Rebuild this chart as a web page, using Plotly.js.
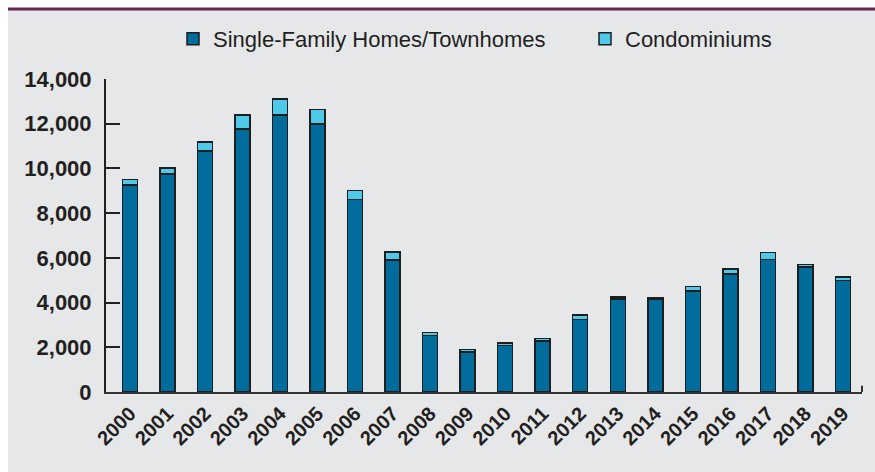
<!DOCTYPE html>
<html>
<head>
<meta charset="utf-8">
<script src="https://cdn.plot.ly/plotly-3.0.1.min.js"></script>
<style>html,body{margin:0;padding:0;background:#fff;}#chart{width:875px;height:472px;}</style>
</head>
<body>
<div id="chart"></div>
<script>
const years = ["2000","2001","2002","2003","2004","2005","2006","2007","2008","2009","2010","2011","2012","2013","2014","2015","2016","2017","2018","2019"];
const singleFamily = [9250,9740,10780,11760,12400,11990,8620,5900,2520,1800,2090,2290,3250,4170,4150,4520,5280,5920,5600,4980];
const condominiums = [260,270,410,630,700,640,400,370,150,110,100,110,190,90,80,210,220,310,110,160];
const yTicks = [0,2000,4000,6000,8000,10000,12000,14000];

const L = 106, R = 862, T = 79, B = 392, W = 875, H = 472;
const px = v => (v - L) / (R - L);
const py = v => (B - v) / (B - T);

const lineStyle = {color: '#1e1e1e', width: 1.5};
const traces = [
  {type: 'bar', name: 'Single-Family Homes/Townhomes', x: years, y: singleFamily,
   marker: {color: '#006c9c', line: lineStyle}, width: 0.4, legend: 'legend'},
  {type: 'bar', name: 'Condominiums', x: years, y: condominiums,
   marker: {color: '#4ec9ea', line: lineStyle}, width: 0.4, legend: 'legend2'}
];

const legFont = {size: 22, family: 'Liberation Sans, Arial, sans-serif', color: '#231f20'};
const layout = {
  width: W, height: H,
  margin: {l: L, r: W - R, t: T, b: H - B, pad: 0, autoexpand: false},
  barmode: 'stack',
  paper_bgcolor: '#e6e7e9',
  plot_bgcolor: '#e6e7e9',
  font: {family: 'Liberation Sans, Arial, sans-serif', color: '#231f20'},
  showlegend: true,
  legend: {orientation: 'h', x: px(173), xanchor: 'left', y: py(39), yanchor: 'middle',
           bgcolor: 'rgba(0,0,0,0)', font: legFont, itemwidth: 30},
  legend2: {orientation: 'h', x: px(585), xanchor: 'left', y: py(39), yanchor: 'middle',
           bgcolor: 'rgba(0,0,0,0)', font: legFont, itemwidth: 30},
  xaxis: {type: 'category', range: [-0.64, 19.51], showgrid: false, zeroline: false,
          showline: true, linecolor: '#333', linewidth: 2,
          ticks: '', tickangle: -45, tickfont: {size: 20, family: 'Liberation Sans, Arial, sans-serif', weight: 'bold', color: '#231f20'}},
  yaxis: {range: [0, 14000], tickvals: yTicks, ticktext: yTicks.map(v => v.toLocaleString('en-US')),
          showgrid: false, zeroline: false, showline: true, linecolor: '#231f20', linewidth: 2,
          ticks: 'inside', ticklen: 14, tickwidth: 2, tickcolor: '#231f20',
          ticklabelstandoff: 8,
          tickfont: {size: 22, family: 'Liberation Sans, Arial, sans-serif', weight: 'bold', color: '#231f20'}},
  shapes: [
    {type: 'rect', xref: 'paper', yref: 'paper', x0: px(0), x1: px(W), y0: py(0), y1: py(8.5), fillcolor: '#ffffff', line: {width: 0}, layer: 'below'},
    {type: 'rect', xref: 'paper', yref: 'paper', x0: px(0), x1: px(8), y0: py(0), y1: py(H), fillcolor: '#ffffff', line: {width: 0}, layer: 'below'},
    {type: 'rect', xref: 'paper', yref: 'paper', x0: px(8), x1: px(W), y0: py(7.5), y1: py(10.5), fillcolor: '#6a2452', line: {width: 0}, layer: 'below'},
    {type: 'line', xref: 'paper', yref: 'paper', x0: 1, x1: 1, y0: 0, y1: 0.02, line: {color: '#333', width: 2}}
  ]
};

Plotly.newPlot('chart', traces, layout, {displayModeBar: false, staticPlot: true});
</script>
</body>
</html>
